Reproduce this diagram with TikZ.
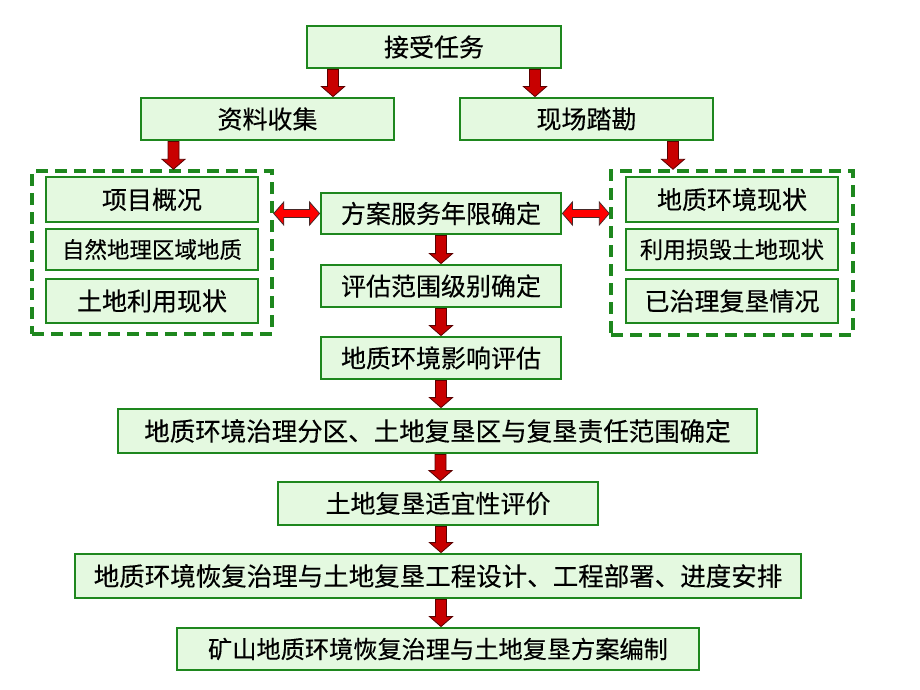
\documentclass[tikz,border=0pt]{standalone}
\usepackage{fontspec}
\setmainfont{Noto Sans CJK SC}[FakeBold=0.3]
\usetikzlibrary{calc}
\definecolor{boxfill}{RGB}{228,249,224}
\definecolor{boxline}{RGB}{30,135,30}
\definecolor{darr}{RGB}{200,0,0}
\definecolor{darrline}{RGB}{90,0,0}
\definecolor{harr}{RGB}{255,0,0}
\definecolor{harrline}{RGB}{70,40,40}
\tikzset{
  box/.style={draw=boxline, fill=boxfill, line width=2.8pt, inner sep=0pt, text=black, font=\fontsize{25}{28}\selectfont},
  grp/.style={draw=boxline, line width=3.5pt, dash pattern=on 12pt off 7pt, inner sep=0pt},
  downarrow/.style={fill=darr, draw=darrline, line width=0.8pt, line join=miter},
  dblarrow/.style={fill=harr, draw=harrline, line width=0.8pt, line join=miter},
}
\newcommand\darrow[2]{\draw[downarrow] let \p1=(#1), \p2=(#2) in
  (\x1-5.5pt,\y1) -- (\x1+5.5pt,\y1) -- (\x1+5.5pt,\y2+10pt) -- (\x1+11.5pt,\y2+10pt)
  -- (\x1,\y2) -- (\x1-11.5pt,\y2+10pt) -- (\x1-5.5pt,\y2+10pt) -- cycle;}
\newcommand\harrow[3]{\draw[dblarrow] let \p1=(#1), \p2=(#2), \p3=(#3) in
  (\x1,\y3) -- (\x1+10pt,\y3+11.5pt) -- (\x1+10pt,\y3+4pt) -- (\x2-10pt,\y3+4pt)
  -- (\x2-10pt,\y3+11.5pt) -- (\x2,\y3) -- (\x2-10pt,\y3-11.5pt) -- (\x2-10pt,\y3-4pt)
  -- (\x1+10pt,\y3-4pt) -- (\x1+10pt,\y3-11.5pt) -- cycle;}
\begin{document}
\begin{tikzpicture}[x=1pt,y=-1pt]
\fill[white] (0,0) rectangle (920,690);
\useasboundingbox (0,0) rectangle (920,690);

\node[box, minimum width=254, minimum height=42] (task) at (434,47) {接受任务};
\node[box, minimum width=253, minimum height=42] (collect) at (267.5,119) {资料收集};
\node[box, minimum width=253, minimum height=42] (survey) at (586.5,119) {现场踏勘};

\node[grp, minimum width=240, minimum height=163] (lg) at (152,252.5) {};
\node[box, minimum width=212, minimum height=45] (l1) at (152,199.5) {项目概况};
\node[box, minimum width=212, minimum height=41, font=\fontsize{22.5}{26}\selectfont] (l2) at (152,249.5) {自然地理区域地质};
\node[box, minimum width=212, minimum height=44] (l3) at (152,301) {土地利用现状};

\node[grp, minimum width=242, minimum height=164] (rg) at (732,253) {};
\node[box, minimum width=212, minimum height=45] (r1) at (732,199.5) {地质环境现状};
\node[box, minimum width=212, minimum height=41, font=\fontsize{23}{26}\selectfont] (r2) at (732,249.5) {利用损毁土地现状};
\node[box, minimum width=212, minimum height=44] (r3) at (732,301) {已治理复垦情况};

\node[box, minimum width=240, minimum height=41] (plan) at (441,213.5) {方案服务年限确定};
\node[box, minimum width=240, minimum height=42] (scope) at (441,286) {评估范围级别确定};
\node[box, minimum width=240, minimum height=42] (impact) at (441,358) {地质环境影响评估};
\node[box, minimum width=639, minimum height=44, font=\fontsize{25.5}{28}\selectfont] (zone) at (437.5,431) {地质环境治理分区、土地复垦区与复垦责任范围确定};
\node[box, minimum width=320, minimum height=43] (suit) at (438,503.5) {土地复垦适宜性评价};
\node[box, minimum width=726, minimum height=44, font=\fontsize{25.5}{28}\selectfont] (design) at (438,576) {地质环境恢复治理与土地复垦工程设计、工程部署、进度安排};
\node[box, minimum width=522, minimum height=42, font=\fontsize{24.2}{28}\selectfont] (final) at (438,649) {矿山地质环境恢复治理与土地复垦方案编制};

\darrow{[xshift=-101pt]task.south}{collect.north}
\darrow{[xshift=101pt]task.south}{survey.north}
\darrow{[xshift=-94pt]collect.south}{lg.north}
\darrow{[xshift=86.5pt]survey.south}{rg.north}
\darrow{plan.south}{scope.north}
\darrow{scope.south}{impact.north}
\darrow{[xshift=0pt]impact.south}{zone.north}
\darrow{[xshift=3pt]zone.south}{suit.north}
\darrow{[xshift=3pt]suit.south}{design.north}
\darrow{[xshift=3pt]design.south}{final.north}

\harrow{lg.east}{plan.west}{plan.west}
\harrow{plan.east}{rg.west}{plan.east}
\end{tikzpicture}
\end{document}
